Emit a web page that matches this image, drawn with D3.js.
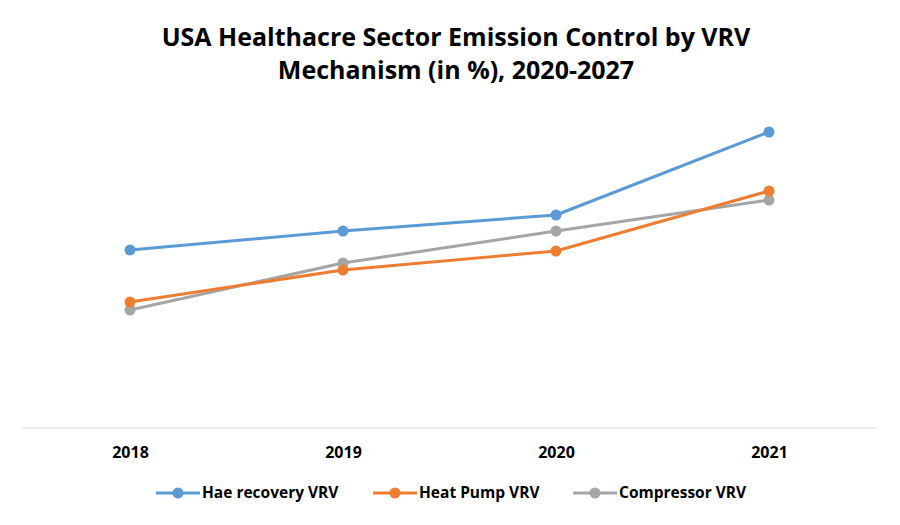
<!DOCTYPE html>
<html>
<head>
<meta charset="utf-8">
<script src="https://cdn.jsdelivr.net/npm/d3@7"></script>
<style>
  body { margin: 0; background: #fff; }
  svg { display: block; font-family: "Open Sans", "Noto Sans", sans-serif; }
</style>
</head>
<body>
<div id="chart"></div>
<script>
const years = ["2018", "2019", "2020", "2021"];
const heatRecovery = [17.8, 19.7, 21.3, 29.6];
const heatPump = [12.6, 15.8, 17.7, 23.7];
const compressor = [11.8, 16.5, 19.7, 22.8];
const seriesNames = ["Hae recovery VRV", "Heat Pump VRV", "Compressor VRV"];
const seriesColors = ["#5B9BD5", "#ED7D31", "#A5A5A5"];

const width = 900, height = 525;
const svg = d3.select("#chart").append("svg")
    .attr("width", width)
    .attr("height", height);

// title
const title = svg.append("text")
    .attr("text-anchor", "middle")
    .style("font-weight", "bold")
    .style("font-size", "25px")
    .attr("fill", "#000");
title.append("tspan").attr("x", 456).attr("y", 46)
    .text("USA Healthacre Sector Emission Control by VRV");
title.append("tspan").attr("x", 456).attr("y", 79)
    .text("Mechanism (in %), 2020-2027");

const x = d3.scalePoint()
    .domain(years)
    .range([130, 769]);

const y = d3.scaleLinear()
    .domain([0, 35])
    .range([428, 78]);

// baseline
svg.append("line")
    .attr("x1", 22).attr("x2", 877)
    .attr("y1", y(0)).attr("y2", y(0))
    .attr("stroke", "#d9d9d9")
    .attr("stroke-width", 1);

const xAxis = svg.append("g")
    .attr("transform", `translate(0, ${y(0)})`)
    .call(d3.axisBottom(x).tickSize(0).tickPadding(19));
xAxis.select(".domain").remove();
xAxis.selectAll("text")
    .style("font-family", "\"Open Sans\", sans-serif")
    .style("font-size", "16px")
    .style("font-weight", "bold")
    .attr("fill", "#000");

const allSeries = [heatRecovery, heatPump, compressor];
const line = d3.line()
    .x((d, i) => x(years[i]))
    .y((d) => y(d));

// draw grey first, then orange, then blue on top
[2, 1, 0].forEach((s) => {
    const g = svg.append("g");
    g.append("path")
        .datum(allSeries[s])
        .attr("d", line)
        .attr("fill", "none")
        .attr("stroke", seriesColors[s])
        .attr("stroke-width", 3)
        .attr("stroke-linejoin", "round");
    g.selectAll("circle")
        .data(allSeries[s])
        .enter()
        .append("circle")
        .attr("cx", (d, i) => x(years[i]))
        .attr("cy", (d) => y(d))
        .attr("r", 5.5)
        .attr("fill", seriesColors[s]);
});

// legend
const legendX = [156, 373, 573];
const legend = svg.selectAll(".legend")
    .data(seriesNames)
    .enter()
    .append("g")
    .attr("transform", (d, i) => `translate(${legendX[i]}, 493)`);
legend.append("line")
    .attr("x1", 0).attr("x2", 44)
    .attr("stroke", (d, i) => seriesColors[i])
    .attr("stroke-width", 3);
legend.append("circle")
    .attr("cx", 22).attr("r", 5.5)
    .attr("fill", (d, i) => seriesColors[i]);
legend.append("text")
    .attr("x", 46)
    .attr("dy", "0.35em")
    .style("font-size", "15.5px")
    .style("font-weight", "bold")
    .attr("fill", "#000")
    .text((d) => d);
</script>
</body>
</html>
